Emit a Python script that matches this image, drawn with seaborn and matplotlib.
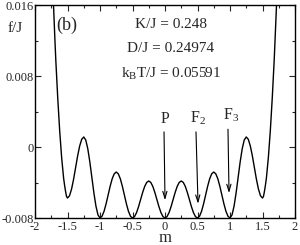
import numpy as np
import matplotlib
matplotlib.use('Agg')
import matplotlib.pyplot as plt
import seaborn as sns
from matplotlib.ticker import MultipleLocator

# free energy curve f/J versus m
m = [-1.75, -1.725, -1.71, -1.695, -1.68, -1.665, -1.65, -1.635, -1.62, -1.605,
     -1.59, -1.575, -1.56, -1.545, -1.53, -1.515, -1.5,
     -1.46875, -1.4375, -1.40625, -1.375, -1.34375, -1.3125, -1.28125, -1.25,
     -1.21875, -1.1875, -1.15625, -1.125, -1.09375, -1.0625, -1.03125, -1.0,
     -0.96875, -0.9375, -0.90625, -0.875, -0.84375, -0.8125, -0.78125, -0.75,
     -0.71875, -0.6875, -0.65625, -0.625, -0.59375, -0.5625, -0.53125, -0.5,
     -0.46875, -0.4375, -0.40625, -0.375, -0.34375, -0.3125, -0.28125, -0.25,
     -0.21875, -0.1875, -0.15625, -0.125, -0.09375, -0.0625, -0.03125,
     0.0, 0.03125, 0.0625, 0.09375, 0.125, 0.15625, 0.1875, 0.21875, 0.25,
     0.28125, 0.3125, 0.34375, 0.375, 0.40625, 0.4375, 0.46875, 0.5,
     0.53125, 0.5625, 0.59375, 0.625, 0.65625, 0.6875, 0.71875, 0.75,
     0.78125, 0.8125, 0.84375, 0.875, 0.90625, 0.9375, 0.96875, 1.0,
     1.03125, 1.0625, 1.09375, 1.125, 1.15625, 1.1875, 1.21875, 1.25,
     1.28125, 1.3125, 1.34375, 1.375, 1.40625, 1.4375, 1.46875, 1.5,
     1.515, 1.53, 1.545, 1.56, 1.575, 1.59, 1.605, 1.62, 1.635, 1.65,
     1.665, 1.68, 1.695, 1.71, 1.725, 1.75]
f = [0.023, 0.0178, 0.0150, 0.0123, 0.0098, 0.0076, 0.0055, 0.0036, 0.0018, 0.0003,
     -0.0012, -0.0024, -0.0035, -0.0043, -0.0050, -0.00557, -0.00575,
     -0.00549, -0.00474, -0.00363, -0.00231, -0.00099, 0.00012, 0.00087, 0.00113,
     0.00078, -0.00021, -0.00169, -0.00344, -0.00518, -0.00666, -0.00765, -0.0080,
     -0.00780, -0.00724, -0.00640, -0.00541, -0.00442, -0.00358, -0.00302, -0.00282,
     -0.00302, -0.00358, -0.00442, -0.00541, -0.00640, -0.00724, -0.00780, -0.0080,
     -0.00784, -0.00739, -0.00671, -0.00592, -0.00512, -0.00444, -0.00399, -0.00383,
     -0.00399, -0.00444, -0.00512, -0.00592, -0.00671, -0.00739, -0.00784,
     -0.0080, -0.00784, -0.00739, -0.00671, -0.00592, -0.00512, -0.00444, -0.00399, -0.00383,
     -0.00399, -0.00444, -0.00512, -0.00592, -0.00671, -0.00739, -0.00784, -0.0080,
     -0.00780, -0.00724, -0.00640, -0.00541, -0.00442, -0.00358, -0.00302, -0.00282,
     -0.00302, -0.00358, -0.00442, -0.00541, -0.00640, -0.00724, -0.00780, -0.0080,
     -0.00765, -0.00666, -0.00518, -0.00344, -0.00169, -0.00021, 0.00078, 0.00113,
     0.00087, 0.00012, -0.00099, -0.00231, -0.00363, -0.00474, -0.00549, -0.00575,
     -0.00557, -0.0050, -0.0043, -0.0035, -0.0024, -0.0012, 0.0003, 0.0018, 0.0036, 0.0055,
     0.0076, 0.0098, 0.0123, 0.0150, 0.0178, 0.023]

xticks = [-2, -1.5, -1, -0.5, 0, 0.5, 1, 1.5, 2]
xticklabels = ['-2', '-1.5', '-1', '-0.5', '0', '0.5', '1', '1.5', '2']
yticks = [-0.008, 0, 0.008, 0.016]
yticklabels = ['-0.008', '0', '0.008', '0.016']

params = ['K/J = 0.248', 'D/J = 0.24974', 'k$_\\mathregular{B}$T/J = 0.05591']
params_y = [0.01341, 0.01070, 0.00777]
labels = ['P', 'F$_\\mathregular{2}$', 'F$_\\mathregular{3}$']
label_x = [0.0, 0.51, 1.015]
label_y = [0.0027, 0.0027, 0.0031]
arrow_tail = [(-0.015, 0.0017), (0.477, 0.0017), (0.969, 0.0020)]
arrow_tip = [(0.0, -0.0060), (0.508, -0.0064), (0.985, -0.0052)]

sns.set_style('ticks')
plt.rcParams['font.family'] = ['Liberation Serif', 'DejaVu Serif']
plt.rcParams['mathtext.default'] = 'regular'

fig = plt.figure(figsize=(3.0, 2.45), dpi=100)
ax = fig.add_axes([35/300, 1 - 218/245, 260/300, 213/245])

sns.lineplot(x=m, y=f, color='black', linewidth=1.0, ax=ax, sort=False)

ax.set_xlim(-2, 2)
ax.set_ylim(-0.008, 0.016)
ax.set_xticks(xticks)
ax.set_xticklabels(xticklabels)
ax.set_yticks(yticks)
ax.set_yticklabels(yticklabels)
ax.xaxis.set_minor_locator(MultipleLocator(0.25))
ax.yaxis.set_minor_locator(MultipleLocator(0.004))
ax.tick_params(which='both', direction='in', top=True, right=True, labelsize=9, pad=2)
ax.tick_params(axis='y', pad=1)
ax.tick_params(which='major', length=4, width=0.8)
ax.tick_params(which='minor', length=2, width=0.8)
for s in ax.spines.values():
    s.set_linewidth(1.0)
    s.set_color('black')

ax.set_xlabel('m', fontsize=12)
ax.xaxis.set_label_coords(0.5, -0.056)
ax.set_ylabel('')
fig.text(15/300, 1 - 29/245, 'f/J', fontsize=11, ha='center', va='center')

ax.text(-1.51, 0.01375, '(b)', fontsize=13, ha='center', va='center')
for t, y in zip(params, params_y):
    ax.text(0.09, y, t, fontsize=11, ha='center', va='baseline')

for t, x, y in zip(labels, label_x, label_y):
    ax.text(x, y, t, fontsize=11.5, ha='center', va='baseline')
for tail, tip in zip(arrow_tail, arrow_tip):
    ax.annotate('', xy=tip, xytext=tail,
                arrowprops=dict(arrowstyle='->,head_width=0.15,head_length=0.5',
                                color='black', lw=0.8, shrinkA=0, shrinkB=0))

fig.savefig('out.png', dpi=100)
